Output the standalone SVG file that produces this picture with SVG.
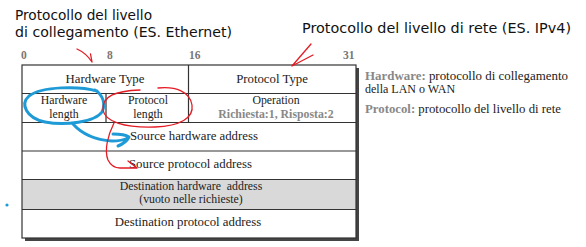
<svg xmlns="http://www.w3.org/2000/svg" width="586" height="247" viewBox="0 0 586 247">
  <style>
    .hand { font-family: "DejaVu Sans", "Liberation Sans", sans-serif; font-size: 14px; fill: #111; }
    .cell { font-family: "Liberation Serif", "Times New Roman", serif; font-size: 12.8px; fill: #222; }
    .two { font-size: 11.8px; }
    .bits { font-family: "Liberation Serif", serif; font-size: 11.5px; font-weight: bold; fill: #777; }
    .note { font-family: "Liberation Serif", serif; font-size: 12px; fill: #222; }
    .key { fill: #888; font-weight: bold; }
    .grid { fill: none; stroke: #333; stroke-width: 1.2; }
    .blue { fill: none; stroke: #1e9bd7; stroke-width: 3; stroke-linecap: round; stroke-linejoin: round; }
    .red { fill: none; stroke: #e31b23; stroke-width: 1.3; stroke-linecap: round; stroke-linejoin: round; }
  </style>

  <rect width="586" height="247" fill="#fff"/>

  <!-- handwritten captions -->
  <text class="hand" x="15" y="20" textLength="137" lengthAdjust="spacingAndGlyphs">Protocollo del livello</text>
  <text class="hand" x="15" y="37" textLength="217" lengthAdjust="spacingAndGlyphs">di collegamento (ES. Ethernet)</text>
  <text class="hand" x="302" y="33" textLength="269" lengthAdjust="spacingAndGlyphs">Protocollo del livello di rete (ES. IPv4)</text>

  <!-- bit positions -->
  <text class="bits" x="21" y="59">0</text>
  <text class="bits" x="107" y="59">8</text>
  <text class="bits" x="189" y="59">16</text>
  <text class="bits" x="343" y="59">31</text>

  <!-- table frame with drop shadow -->
  <rect x="25" y="68" width="334" height="173" fill="#444"/>
  <rect x="22" y="65" width="334" height="173" fill="#fff"/>
  <rect x="22" y="179.5" width="334" height="30" fill="#d9d9d9"/>

  <g id="hardware-type">
    <text class="cell" x="105" y="83" text-anchor="middle">Hardware Type</text>
  </g>
  <g id="protocol-type">
    <text class="cell" x="272" y="83" text-anchor="middle">Protocol Type</text>
  </g>
  <g id="hardware-length">
    <text class="cell two" x="64" y="104" text-anchor="middle">Hardware</text>
    <text class="cell two" x="64" y="117.5" text-anchor="middle">length</text>
  </g>
  <g id="protocol-length">
    <text class="cell two" x="148" y="104" text-anchor="middle">Protocol</text>
    <text class="cell two" x="148" y="117.5" text-anchor="middle">length</text>
  </g>
  <g id="operation">
    <text class="cell two" x="276" y="104" text-anchor="middle">Operation</text>
    <text class="cell two key" x="276" y="117.5" text-anchor="middle">Richiesta:1, Risposta:2</text>
  </g>
  <g id="source-hardware">
    <text class="cell" x="130" y="140">Source hardware address</text>
  </g>
  <g id="source-protocol">
    <text class="cell" x="129" y="168">Source protocol address</text>
  </g>
  <g id="destination-hardware">
    <text class="cell two" x="191" y="189.5" text-anchor="middle" xml:space="preserve">Destination hardware  address</text>
    <text class="cell two" x="191" y="203" text-anchor="middle">(vuoto nelle richieste)</text>
  </g>
  <g id="destination-protocol">
    <text class="cell" x="188" y="226" text-anchor="middle">Destination protocol address</text>
  </g>

  <!-- grid lines -->
  <g class="grid">
    <rect x="22" y="65" width="334" height="173"/>
    <path d="M22 93.5H356M22 122.5H356M22 151H356M22 179.5H356M22 209.5H356"/>
    <path d="M188.5 65V122.5M106 93.5V122.5"/>
  </g>

  <!-- legend -->
  <g id="legend">
    <text class="note" x="365" y="80" textLength="203" lengthAdjust="spacingAndGlyphs"><tspan class="key">Hardware:</tspan> protocollo di collegamento</text>
    <text class="note" x="365" y="93">della LAN o WAN</text>
    <text class="note" x="365" y="113" textLength="196" lengthAdjust="spacingAndGlyphs"><tspan class="key">Protocol:</tspan> protocollo del livello di rete</text>
  </g>

  <!-- hand-drawn marks -->
  <g id="connectors">
    <path class="red" d="M77 49Q86 53 92 62M90.5 54L92 62"/>
    <path class="red" d="M311 44L292 66L313 55"/>
    <path class="blue" d="M97 91C80 86 42 86 29 96C20 104 26 118 45 122C65 126 95 122 102 112C106 104 103 95 95 90"/>
    <path class="blue" d="M73 124C82 134 96 140 112 141C120 141 124 140 128 138M113 134C120 134 126 135 129 137C127 141 123 144 118 146"/>
    <path class="red" d="M158 88C176 86 190 92 192 105C194 118 180 126 155 127C125 128 105 122 103 110C102 96 115 91 140 90"/>
    <path class="red" d="M114 123C108 135 104 150 108 160C111 166 116 168 120 168L137 168M128 161L137 168"/>
  </g>
  <circle cx="7" cy="205" r="1.6" fill="#1e9bd7"/>
</svg>
